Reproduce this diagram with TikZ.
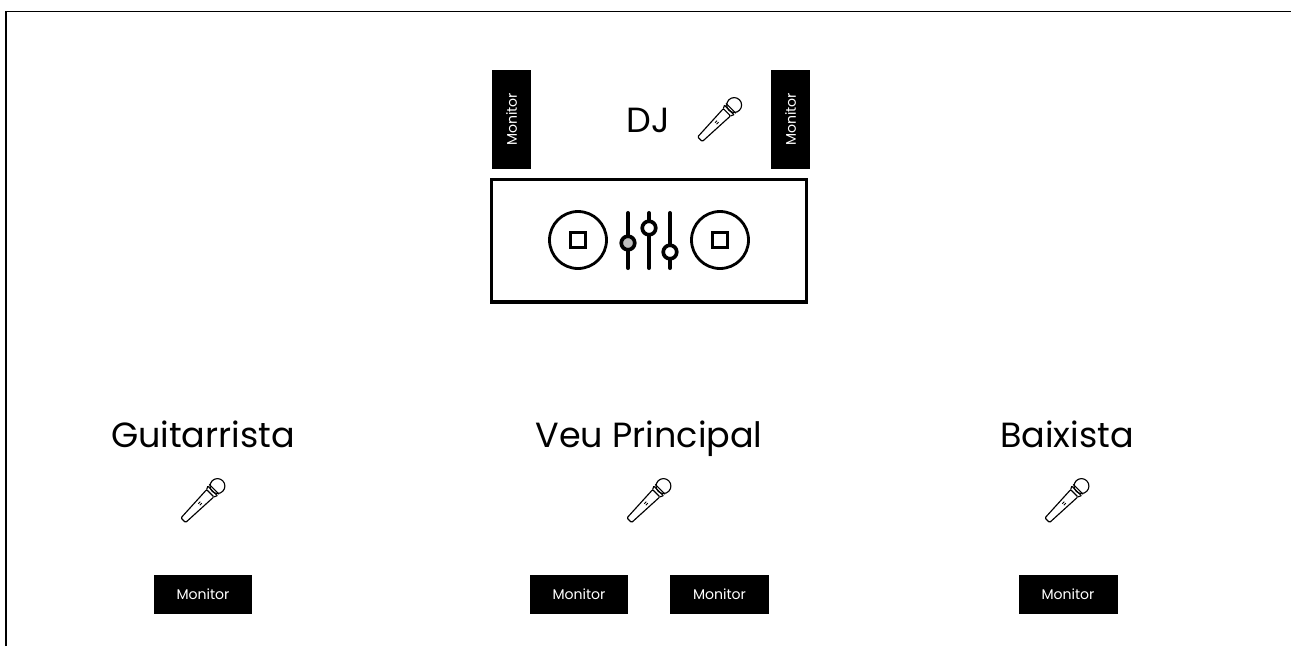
\documentclass[tikz,border=0pt]{standalone}
\usepackage{fontspec}
\usepackage{xcolor}
\setmainfont{Poppins}
\usetikzlibrary{positioning, calc}
\definecolor{knobgrey}{RGB}{190, 190, 190}
\tikzset{
    monitor/.style={fill=black, text=white, minimum width=1.98cm, minimum height=0.79cm, inner sep=0pt, font=\fontsize{8}{9}\selectfont},
    monitorv/.style={monitor, rotate=90},
    player/.style={circle, draw=black, line width=1.6pt, minimum size=1.14cm, inner sep=0pt},
    playercore/.style={draw=black, line width=1.8pt, minimum size=0.29cm, inner sep=0pt},
    knob/.style={circle, draw=black, line width=2.1pt, minimum size=0.27cm, inner sep=0pt},
    bigname/.style={font=\fontsize{19.9}{24}\selectfont, inner sep=0pt, anchor=base},
    mic/.pic={
        \draw[line width=0.65pt, line join=round, rounded corners=0.6pt] (-30,-3.5) -- (-30,3.5) -- (11,5.5) -- (11,-5.5) -- cycle;
        \draw[line width=0.65pt] (11,-5.5) -- (14.5,-7.2) (11,5.5) -- (14.5,7.2);
        \draw[line width=0.65pt] (14.5,-7.2) -- (14.5,7.2) (17,-7.5) -- (17,7.5);
        \draw[line width=0.65pt] (22,0) circle (8);
        \draw[line width=0.5pt] (-6,-1.2) -- (-3,-1.2) (-6,1.2) -- (-3,1.2);
    }
}
\begin{document}
\begin{tikzpicture}[x=0.02cm, y=-0.02cm]
    \useasboundingbox (0,0) rectangle (1291,646);

    % Cornice
    \coordinate (framebl) at (6,646);
    \coordinate (frametl) at (6,11.5);
    \coordinate (frametr) at (1291,11.5);
    \draw[line width=0.65pt] (framebl) -- (frametl) -- (frametr);

    % Postazione DJ
    \node[monitorv] (monitorDJa) at (511.5,119.5) {Monitor};
    \node[monitorv] (monitorDJb) at (790.5,119.5) {Monitor};
    \node[bigname] (nameDJ) at (648,132.5) {DJ};
    \pic[rotate=45, scale=0.93] (micDJ) at (719.7,119.5) {mic};

    \node[draw=black, line width=2pt, minimum width=6.3cm, minimum height=2.45cm, inner sep=0pt] (mixer) at (649,240.5) {};
    \node[player] (playera) at (578,240) {};
    \node[player] (playerb) at (720,240) {};
    \node[playercore] (corea) at (playera) {};
    \node[playercore] (coreb) at (playerb) {};

    % Cursori
    \foreach \i/\px/\py/\col in {a/628/243/knobgrey, b/649/228/white, c/670/252/white} {
        \coordinate (fader\i top) at (\px,213);
        \coordinate (fader\i bot) at (\px,268);
        \draw[line width=2.3pt, line cap=round] (fader\i top) -- (fader\i bot);
        \node[knob, fill=\col] (knob\i) at (\px,\py) {};
    }

    % Musicisti
    \foreach \n/\cx/\txt in {guitar/203/Guitarrista, veu/649/Veu Principal, baix/1067/Baixista} {
        \node[bigname] (name\n) at (\cx,447.5) {\txt};
        \pic[rotate=45, scale=0.93] (mic\n) at (\cx,500.5) {mic};
    }
    \node[monitor] (monitorguitar) at (203,594.5) {Monitor};
    \node[monitor] (monitorveua) at (579,594.5) {Monitor};
    \node[monitor] (monitorveub) at (719.5,594.5) {Monitor};
    \node[monitor] (monitorbaix) at (1068,594.5) {Monitor};
\end{tikzpicture}
\end{document}
